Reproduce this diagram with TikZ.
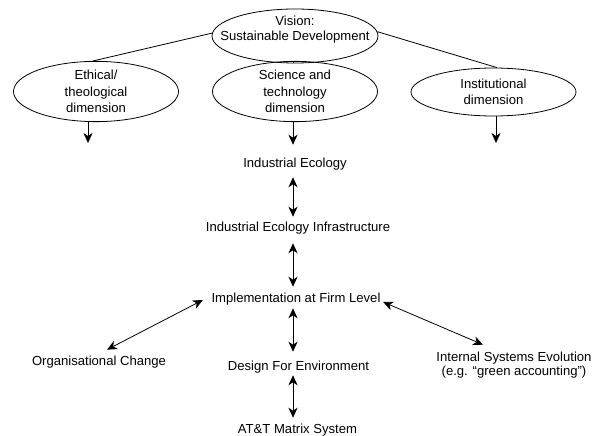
\documentclass[tikz,border=0pt]{standalone}
\usepackage{fontspec}
\setmainfont{Liberation Sans}
\usetikzlibrary{shapes.geometric,arrows.meta,calc}
\begin{document}
\begin{tikzpicture}[x=1pt,y=-1pt,
  font=\fontsize{13.1}{16}\selectfont,
  ell/.style={draw, ellipse, line width=0.8pt, minimum width=165pt, minimum height=48pt,
    inner sep=0pt, align=center, font=\fontsize{13.1}{16.5}\selectfont},
  lbl/.style={inner sep=0pt, text height=9.5pt, text depth=2.8pt},
  mlbl/.style={inner sep=0pt, align=center},
  conn/.style={line width=0.8pt},
  tip/.tip={Stealth[length=10pt,width=9pt,inset=3pt]},
  arr/.style={conn, -tip},
  dbl/.style={conn, tip-tip}
]
\useasboundingbox (0,0) rectangle (608,436);

% ellipses
\node[ell, minimum width=166pt, minimum height=54pt] (vision) at (295,36) {};
\node[mlbl, font=\fontsize{13.1}{15}\selectfont] (visiontxt) at (295,29.5) {Vision:\\Sustainable Development};
\node[ell] (eth) at (96,91.5) {Ethical/\\theological\\dimension};
\node[ell] (sci) at (295,91.5) {Science and\\technology\\dimension};
\node[ell] (inst) at (493.5,92) {Institutional\\dimension};

% text nodes
\coordinate (ax) at (293,0);
\node[lbl] (ie) at (295,164) {Industrial Ecology};
\node[lbl] (iei) at (298,228) {Industrial Ecology Infrastructure};
\node[lbl] (impl) at (296,299) {Implementation at Firm Level};
\node[lbl] (org) at (99,362) {Organisational Change};
\node[lbl] (dfe) at (298.5,367) {Design For Environment};
\node[mlbl, font=\fontsize{13.1}{14}\selectfont] (ise) at (514,365) {Internal Systems Evolution\\(e.g. “green accounting”)};
\node[lbl] (att) at (297.5,430) {AT\&T Matrix System};

% connectors
\draw[conn] (vision.178) -- ($(eth.north)+(-3,0)$);
\draw[conn] (vision.3) -- ($(inst.north)+(3.5,0)$);
\draw[conn] (vision.south -| ax) -- (sci.north -| ax);
\coordinate (etip) at (88,143);
\coordinate (itip) at (496,143);
\draw[arr] (eth.south -| etip) -- (etip);
\draw[arr] (inst.south -| itip) -- (itip);
\draw[arr, shorten >=12.9pt] (sci.south -| ax) -- (ie.north -| ax);

\draw[dbl, shorten <=6.9pt, shorten >=4.9pt] (ie.south -| ax) -- (iei.north -| ax);
\draw[dbl, shorten <=8.9pt, shorten >=5.9pt] (iei.south -| ax) -- (impl.north -| ax);
\draw[dbl, shorten <=2.9pt, shorten >=8.9pt] (impl.south -| ax) -- (dfe.north -| ax);
\draw[dbl, shorten <=1.9pt, shorten >=5.9pt] (dfe.south -| ax) -- (att.north -| ax);
\draw[dbl] ($(org.north)+(8,-6)$) -- ($(impl.west)+(-8.5,1)$);
\draw[dbl] ($(impl.east)+(2.5,3)$) -- ($(ise.north)+(-31,-7)$);
\end{tikzpicture}
\end{document}
